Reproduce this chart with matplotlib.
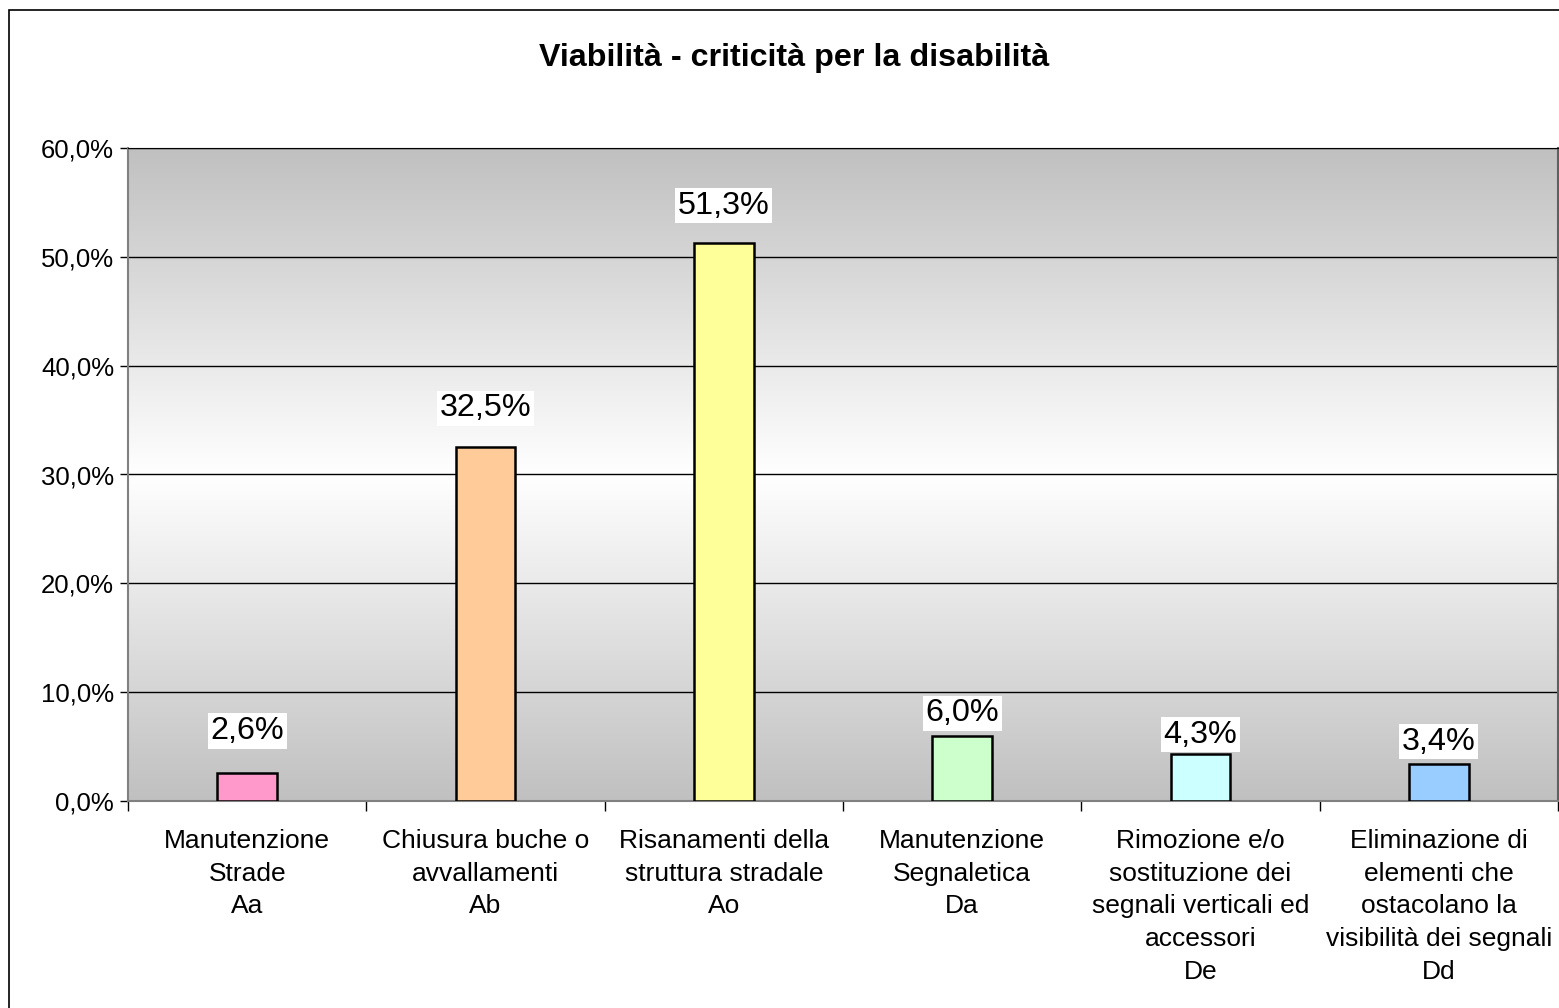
import numpy as np
import matplotlib
matplotlib.use("Agg")
import matplotlib.pyplot as plt
from matplotlib.patches import Rectangle
from matplotlib.ticker import FuncFormatter

categories = [
    "Manutenzione\nStrade\nAa",
    "Chiusura buche o\navvallamenti\nAb",
    "Risanamenti della\nstruttura stradale\nAo",
    "Manutenzione\nSegnaletica\nDa",
    "Rimozione e/o\nsostituzione dei\nsegnali verticali ed\naccessori\nDe",
    "Eliminazione di\nelementi che\nostacolano la\nvisibilità dei segnali\nDd",
]
values = [2.6, 32.5, 51.3, 6.0, 4.3, 3.4]
colors = ["#FF99CC", "#FFCC99", "#FFFF99", "#CCFFCC", "#CCFFFF", "#99CCFF"]
yticks = [0, 10, 20, 30, 40, 50, 60]
title = "Viabilità - criticità per la disabilità"

# label offsets above bar tops (points), as placed in the original
label_offsets = [30.0, 28.0, 26.5, 16.0, 14.0, 16.0]

plt.rcParams['font.family'] = ['Liberation Sans', 'DejaVu Sans']

W, H = 1559, 1008
fig = plt.figure(figsize=(W / 100, H / 100), dpi=100)
fig.patch.set_facecolor("white")

# outer chart border
fig.patches.append(Rectangle((9 / W, -0.1), 1.2, (H - 10) / H + 0.1, transform=fig.transFigure,
                             fill=False, edgecolor="black", linewidth=1.2))

ax = fig.add_axes([128 / W, (H - 801) / H, (1558 - 128) / W, (801 - 148) / H])

n = len(values)
x = np.arange(n)
ax.set_xlim(-0.5, n - 0.5)
ax.set_ylim(0, 60)

# gradient background gray-white-gray
f = np.linspace(0, 1, 256)
g = 255 - (255 - 192) * np.abs(2 * f - 1)
img = np.repeat((g / 255.0)[:, None], 2, axis=1)
ax.imshow(np.dstack([img, img, img]), extent=[-0.5, n - 0.5, 0, 60], origin="lower",
          aspect="auto", zorder=0, interpolation="bilinear")

for yv in yticks[1:]:
    ax.axhline(yv, color="black", linewidth=1.0, zorder=1)

ax.bar(x, values, width=0.25, color=colors, edgecolor="black", linewidth=1.8, zorder=3)

for xi, v, off in zip(x, values, label_offsets):
    ax.annotate(f"{v:.1f}%".replace(".", ","), xy=(xi, v), xytext=(0, off),
                textcoords="offset points", ha="center", va="center", fontsize=23.3,
                bbox=dict(boxstyle="square,pad=0.08", facecolor="white", edgecolor="none"),
                zorder=4)

ax.set_yticks(yticks)
ax.yaxis.set_major_formatter(FuncFormatter(lambda v, p: f"{v:.1f}%".replace(".", ",")))
ax.tick_params(axis="y", labelsize=18.5, length=6, width=1, direction="out", pad=4)

ax.set_xticks(np.arange(n + 1) - 0.5)
ax.set_xticklabels([])
ax.set_xticks(x, minor=True)
ax.set_xticklabels(categories, minor=True, fontsize=19, linespacing=1.46)
ax.tick_params(axis="x", which="major", length=7, width=1, direction="out")
ax.tick_params(axis="x", which="minor", length=0, pad=20)

for s in ["left", "bottom"]:
    ax.spines[s].set_color("#808080")
    ax.spines[s].set_linewidth(1.5)
ax.spines["top"].set_color("black")
ax.spines["right"].set_color("#606060")
ax.spines["right"].set_linewidth(1.5)

fig.text(794 / W, 1 - 58 / H, title, ha="center", va="center", fontsize=23.2, fontweight="bold")

fig.savefig("out.png", dpi=100)
